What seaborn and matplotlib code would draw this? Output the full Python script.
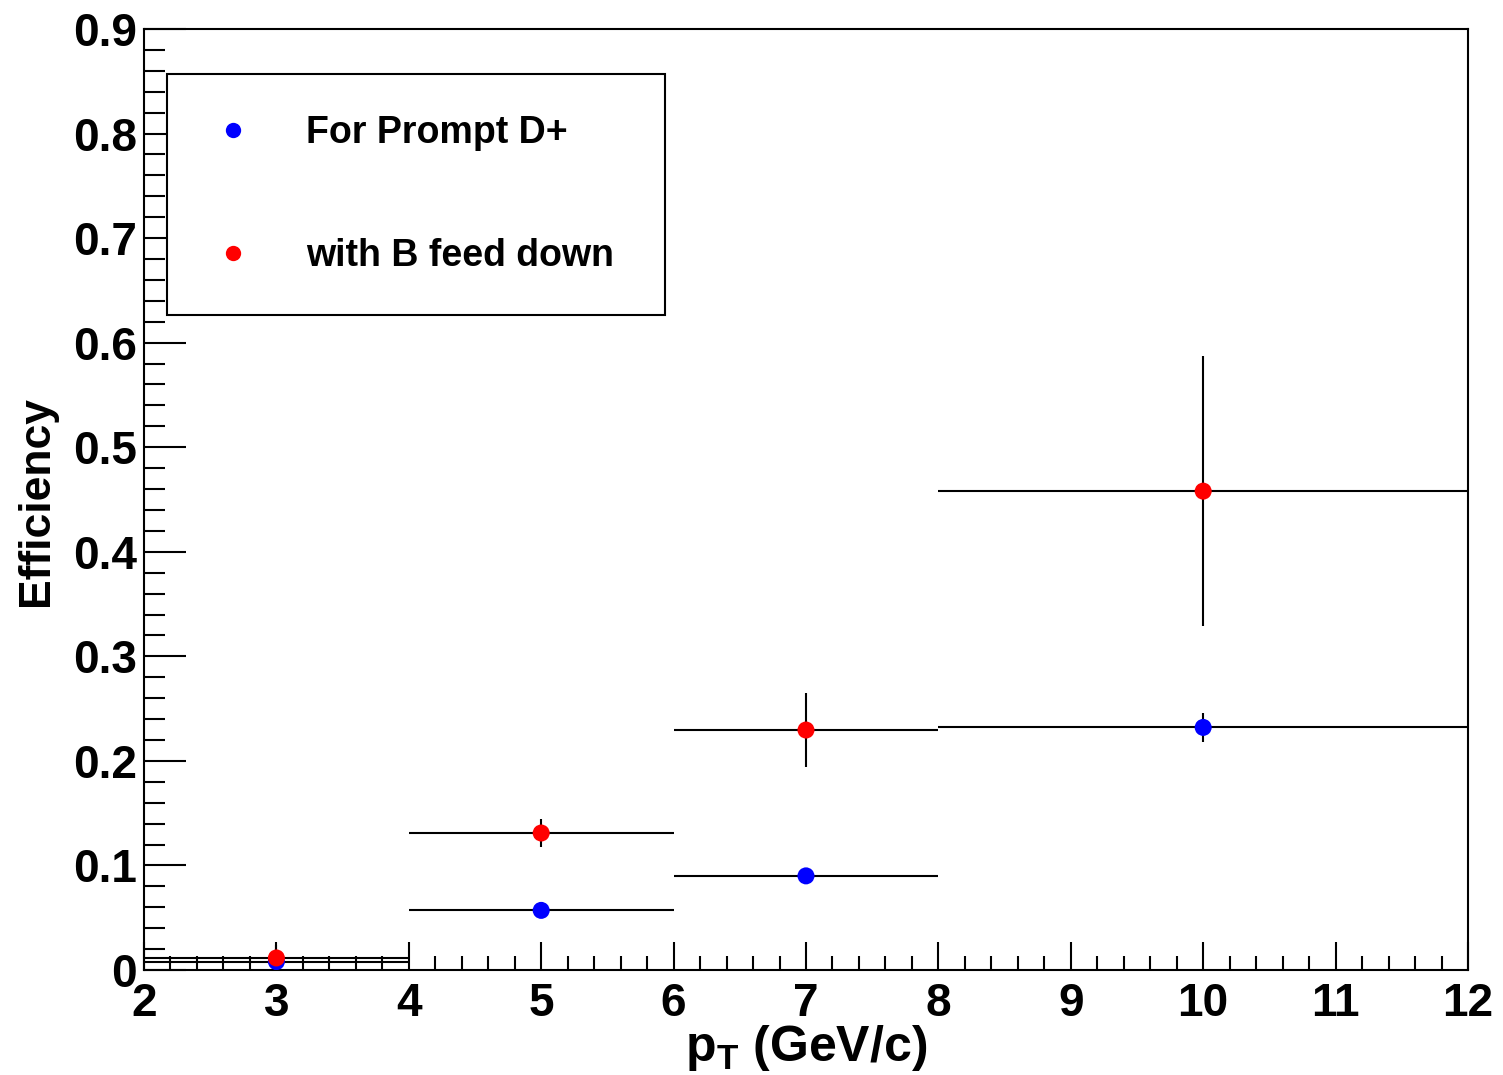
import numpy as np
import pandas as pd
import matplotlib
matplotlib.use("Agg")
import matplotlib.pyplot as plt
import seaborn as sns
from matplotlib.ticker import MultipleLocator

# ---- data ----
bin_lo = [2, 4, 6, 8]
bin_hi = [4, 6, 8, 12]
pt_center = [3, 5, 7, 10]
eff_prompt = [0.008, 0.057, 0.090, 0.232]
err_prompt = [0.003, 0.004, 0.005, 0.014]
eff_feed = [0.0115, 0.131, 0.2295, 0.458]
err_feed = [0.012, 0.013, 0.035, 0.129]
labels = ["For Prompt D+", "with B feed down"]

sns.set_theme(style="white")
plt.rcParams['font.family'] = ['Liberation Sans', 'DejaVu Sans']
plt.rcParams['font.weight'] = 'bold'
plt.rcParams['text.color'] = 'black'

rows = []
for lab, ys, es in [(labels[0], eff_prompt, err_prompt), (labels[1], eff_feed, err_feed)]:
    for lo, hi, c, y, e in zip(bin_lo, bin_hi, pt_center, ys, es):
        rows.append(dict(series=lab, pt=c, eff=y, err=e, xlo=c - lo, xhi=hi - c))
df = pd.DataFrame(rows)

fig = plt.figure(figsize=(15.03, 10.75), dpi=100)
ax = fig.add_axes([0.0958, 0.0977, 0.8809, 0.8753])

for lab in labels:
    d = df[df.series == lab]
    ax.errorbar(d.pt, d.eff, yerr=d.err, xerr=[d.xlo, d.xhi], fmt='none',
                ecolor='black', elinewidth=1.5, capsize=0, zorder=2)

sns.scatterplot(data=df, x='pt', y='eff', hue='series', hue_order=labels,
                palette=['#0000ff', '#ff0000'], s=150, edgecolor='none',
                ax=ax, zorder=3, legend=True)

ax.set_xlim(2, 12)
ax.set_ylim(0, 0.9)
ax.xaxis.set_major_locator(MultipleLocator(1))
ax.xaxis.set_minor_locator(MultipleLocator(0.2))
ax.yaxis.set_minor_locator(MultipleLocator(0.02))
ax.set_yticks(np.arange(0, 0.91, 0.1))
ax.set_yticklabels(["0"] + [f"{v:.1f}" for v in np.arange(0.1, 0.91, 0.1)])
ax.tick_params(axis='both', which='both', direction='in', top=False, right=False,
               bottom=True, left=True, colors='black', width=1.5, labelsize=33,
               labelcolor='black')
ax.tick_params(axis='x', which='major', length=20, pad=9)
ax.tick_params(axis='x', which='minor', length=10)
ax.tick_params(axis='y', which='major', length=30, pad=5)
ax.tick_params(axis='y', which='minor', length=15)
for lbl in ax.get_xticklabels() + ax.get_yticklabels():
    lbl.set_fontweight('bold')
for sp in ax.spines.values():
    sp.set_color('black')
    sp.set_linewidth(1.5)

ax.set_xlabel(r"p$_\mathregular{T}$ (GeV/c)", fontsize=36, fontweight='bold',
              color='black')
ax.xaxis.set_label_coords(0.5, -0.056)
ax.set_ylabel("Efficiency", fontsize=32, fontweight='bold', color='black')
ax.yaxis.set_label_coords(-0.066, 0.498)

handles, _ = ax.get_legend_handles_labels()
leg = ax.legend(handles=handles, labels=labels, loc='upper left',
                bbox_to_anchor=(0.0174, 0.701, 0.376, 0.251), mode='expand',
                borderaxespad=0, frameon=True, fancybox=False, edgecolor='black',
                framealpha=1, prop={'size': 27, 'weight': 'bold'},
                labelspacing=2.3, borderpad=1.1, handlelength=1.3,
                handletextpad=1.3, markerscale=0.9)
leg.get_frame().set_linewidth(1.5)
for t in leg.get_texts():
    t.set_color('black')

fig.savefig("out.png", dpi=100)
